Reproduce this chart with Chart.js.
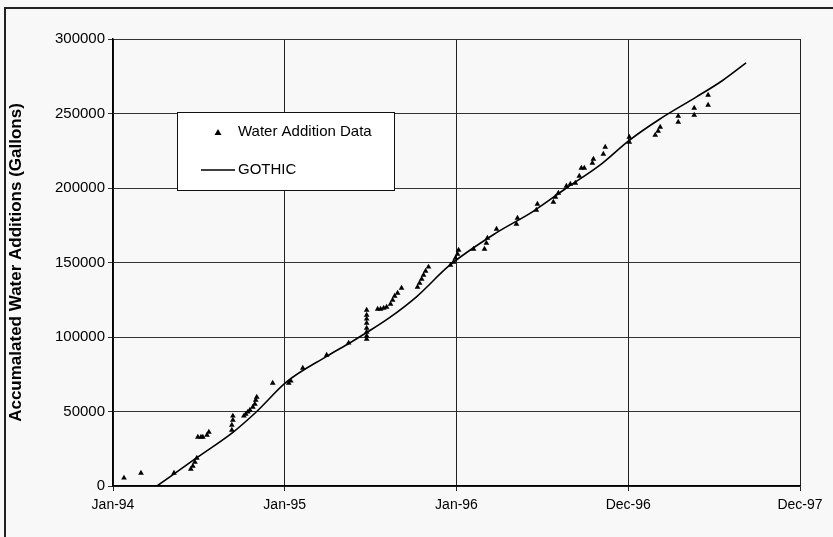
<!DOCTYPE html>
<html>
<head>
<meta charset="utf-8">
<script src="https://cdn.jsdelivr.net/npm/chart.js@4.4.1/dist/chart.umd.min.js"></script>
<style>
  html, body { margin: 0; padding: 0; background: #f8f8f8; }
  #wrap { position: relative; width: 833px; height: 537px; overflow: hidden; }
  #frame {
    position: absolute; left: 4px; top: 7px; width: 840px; height: 540px;
    border-left: 2px solid #222; border-top: 2px solid #222;
    pointer-events: none;
  }
</style>
</head>
<body>
<div id="wrap">
  <canvas id="chart" width="833" height="537"></canvas>
  <div id="frame"></div>
</div>
<script>
// x in 365-day years from Jan-94 (ticks every 365 days, as in the original date axis)
const xTickLabels = ["Jan-94", "Jan-95", "Jan-96", "Dec-96", "Dec-97"];

// measured water additions (gallons)
const dataX = [
  0.064, 0.163, 0.355, 0.453, 0.465, 0.477, 0.488, 0.494, 0.512, 0.523,
  0.547, 0.558, 0.692, 0.692, 0.698, 0.698, 0.762, 0.773, 0.785, 0.797,
  0.814, 0.826, 0.831, 0.837, 0.930, 1.023, 1.035, 1.105, 1.244, 1.372,
  1.477, 1.477, 1.477, 1.477, 1.477, 1.477, 1.477, 1.477, 1.541, 1.558,
  1.576, 1.593, 1.616, 1.628, 1.640, 1.657, 1.680, 1.773, 1.785, 1.797,
  1.808, 1.820, 1.837, 1.965, 1.983, 1.994, 2.006, 2.012, 2.099, 2.163,
  2.174, 2.180, 2.233, 2.349, 2.355, 2.465, 2.471, 2.564, 2.576, 2.593,
  2.640, 2.663, 2.692, 2.715, 2.727, 2.744, 2.791, 2.797, 2.855, 2.866,
  3.006, 3.006, 3.157, 3.174, 3.186, 3.291, 3.291, 3.384, 3.384, 3.465,
  3.465
];
const dataY = [
  5400, 8700, 8700, 11400, 13400, 16100, 18800, 32900, 32900, 32900,
  34200, 36200, 37600, 40900, 44300, 47000, 47000, 48300, 49700, 51000,
  53000, 55000, 57700, 59700, 69100, 69100, 70500, 79200, 87900, 96000,
  118100, 114700, 112100, 109400, 106000, 103300, 100700, 98600, 118800, 118800,
  119400, 120100, 122100, 124800, 127500, 129500, 132900, 133500, 136200, 138900,
  141600, 144300, 147000, 148300, 150300, 153000, 155700, 158400, 159000, 159000,
  163100, 166400, 172400, 175800, 179800, 185200, 189200, 190600, 193900, 196600,
  201300, 202600, 203300, 208000, 213400, 213400, 216700, 219400, 222800, 227500,
  230800, 234200, 235500, 238200, 240900, 244200, 248300, 248900, 253600, 255700,
  262400
];

// GOTHIC model curve
const gothicX = [
  0.256, 0.488, 0.698, 0.837, 1.012, 1.244, 1.378, 1.477, 1.610, 1.767,
  1.959, 2.233, 2.442, 2.640, 2.831, 3.006, 3.180, 3.395, 3.547, 3.686
];
const gothicY = [
  0, 19000, 36000, 50000, 70000, 87000, 96000, 103000, 113000, 127000,
  148000, 170000, 184000, 200000, 215000, 232000, 246000, 261000, 272000, 284000
];

const yTicks = [0, 50000, 100000, 150000, 200000, 250000, 300000];

const FONT = '"Liberation Sans", Arial, sans-serif';

// legend box drawn inside the plot, like the original
const boxLegend = {
  id: "boxLegend",
  afterDraw(chart) {
    const ctx = chart.ctx;
    const a = chart.chartArea;
    const x = a.left + 64, y = a.top + 73, w = 217, h = 78;
    ctx.save();
    ctx.fillStyle = "#ffffff";
    ctx.fillRect(x, y, w, h);
    ctx.strokeStyle = "#111";
    ctx.lineWidth = 1;
    ctx.strokeRect(x + 0.5, y + 0.5, w, h);

    ctx.fillStyle = "#000";
    ctx.beginPath();
    ctx.moveTo(x + 41, y + 17);
    ctx.lineTo(x + 44.5, y + 23);
    ctx.lineTo(x + 37.5, y + 23);
    ctx.closePath();
    ctx.fill();

    ctx.strokeStyle = "#000";
    ctx.lineWidth = 1.5;
    ctx.beginPath();
    ctx.moveTo(x + 24, y + 58);
    ctx.lineTo(x + 58, y + 58);
    ctx.stroke();

    ctx.font = "15px " + FONT;
    ctx.textBaseline = "middle";
    ctx.fillText("Water Addition Data", x + 61, y + 20);
    ctx.fillText("GOTHIC", x + 61, y + 58);
    ctx.restore();
  }
};

new Chart(document.getElementById("chart"), {
  type: "scatter",
  data: {
    datasets: [
      {
        label: "GOTHIC",
        type: "line",
        data: gothicX.map((v, i) => ({ x: v, y: gothicY[i] })),
        borderColor: "#000",
        borderWidth: 1.6,
        pointRadius: 0,
        cubicInterpolationMode: "monotone",
        fill: false,
        order: 0
      },
      {
        label: "Water Addition Data",
        data: dataX.map((v, i) => ({ x: v, y: dataY[i] })),
        pointStyle: "triangle",
        pointRadius: 3.3,
        backgroundColor: "#000",
        borderColor: "#000",
        borderWidth: 0,
        order: 1
      }
    ]
  },
  options: {
    responsive: false,
    animation: false,
    layout: { padding: { top: 39, right: 33, left: 0, bottom: 0 } },
    plugins: {
      legend: { display: false },
      tooltip: { enabled: false }
    },
    scales: {
      x: {
        type: "linear",
        min: 0,
        max: 4,
        afterBuildTicks: s => { s.ticks = xTickLabels.map((_, i) => ({ value: i })); },
        afterFit: s => { s.height = 51; },
        ticks: {
          color: "#000",
          padding: 6,
          maxRotation: 0,
          font: { family: FONT, size: 14 },
          callback: v => xTickLabels[v] ?? ""
        },
        grid: { color: "#222", lineWidth: 1, tickLength: 5 },
        border: { color: "#000", width: 1.5 }
      },
      y: {
        min: 0,
        max: 300000,
        afterBuildTicks: s => { s.ticks = yTicks.map(v => ({ value: v })); },
        afterFit: s => { s.width = 113; },
        ticks: {
          color: "#000",
          padding: 3,
          font: { family: FONT, size: 15 },
          callback: v => String(v)
        },
        grid: { color: "#333", lineWidth: 1, tickLength: 5 },
        border: { color: "#000", width: 1.5 },
        title: {
          display: true,
          text: "Accumalated Water Additions (Gallons)",
          color: "#000",
          padding: { top: 6, bottom: 0 },
          font: { family: FONT, size: 17, weight: "bold" }
        }
      }
    }
  },
  plugins: [boxLegend]
});
</script>
</body>
</html>
